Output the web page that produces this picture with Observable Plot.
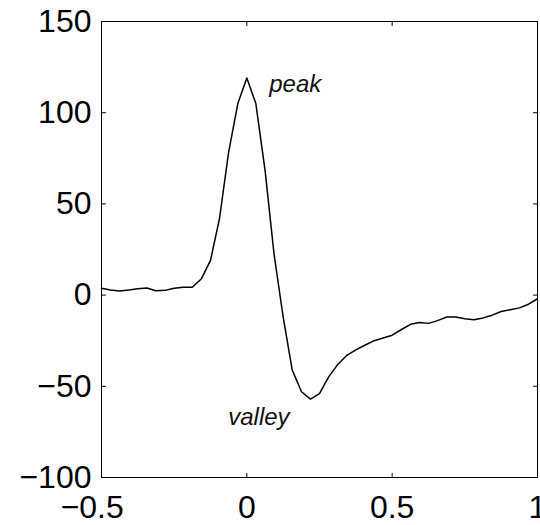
<!DOCTYPE html>
<html>
<head>
<meta charset="utf-8">
<script src="https://cdn.jsdelivr.net/npm/d3@7"></script>
<script src="https://cdn.jsdelivr.net/npm/@observablehq/plot@0.6"></script>
<style>
  html, body { margin: 0; padding: 0; background: #fff; }
  svg { display: block; }
</style>
</head>
<body>
<div id="chart"></div>
<script>
// Sample times (s) of the averaged spike waveform
const time = [
  -0.5, -0.469, -0.438, -0.406, -0.375, -0.344, -0.313, -0.281, -0.25, -0.219,
  -0.188, -0.156, -0.125, -0.094, -0.063, -0.031, 0, 0.031, 0.063, 0.094,
  0.125, 0.156, 0.188, 0.219, 0.25, 0.281, 0.313, 0.344, 0.375, 0.406,
  0.438, 0.469, 0.5, 0.531, 0.563, 0.594, 0.625, 0.656, 0.688, 0.719,
  0.75, 0.781, 0.813, 0.844, 0.875, 0.906, 0.938, 0.969, 1.0
];
// Amplitude at each sample
const amplitude = [
  3.8, 2.8, 2.2, 2.8, 3.5, 3.9, 2.4, 2.6, 3.8, 4.3,
  4.3, 9, 19, 42, 78, 105, 119, 105, 68, 22,
  -12, -41, -53, -57, -54, -45, -38, -33, -30, -27.5,
  -25, -23.5, -22, -19, -16, -15, -15.5, -14, -12, -12,
  -13, -13.5, -12.5, -11, -9, -8, -7, -5, -2
];

const xTicks = [-0.5, 0, 0.5, 1];
const yTicks = [-100, -50, 0, 50, 100, 150];

// Annotations: text and the point where each label starts (baseline)
const noteText = ["peak", "valley"];
const noteX = [0.077, -0.064];
const noteY = [111.5, -71.2];

const trace = time.map((t, i) => ({t, v: amplitude[i]}));
const notes = noteText.map((s, i) => ({s, x: noteX[i], y: noteY[i]}));

const font = "'Liberation Sans', Arial, Helvetica, sans-serif";
const labelSize = 32;
const tickLen = 4;
const signed = d => (d < 0 ? "\u2212" : "") + Math.abs(d);

// a plain line segment shape for vector marks, used as inward tick marks
const stub = {draw(context, l) { context.moveTo(0, 0); context.lineTo(0, -l); }};
const tick = (data, channel, frameAnchor, rotate) =>
  Plot.vector(data, {[channel]: d => d, frameAnchor, rotate, length: tickLen, anchor: "start", shape: stub, stroke: "#000", strokeWidth: 1});

const chart = Plot.plot({
  width: 540,
  height: 525,
  marginLeft: 101,
  marginRight: 3,
  marginTop: 21,
  marginBottom: 48,
  style: {fontFamily: font, background: "#fff", color: "#000", overflow: "visible"},
  x: {domain: [-0.5, 1], axis: null},
  y: {domain: [-100, 150], axis: null},
  marks: [
    Plot.frame({stroke: "#000", strokeWidth: 1}),
    // ticks pointing into the plot area on all four sides
    tick(xTicks, "x", "bottom", 0),
    tick(xTicks, "x", "top", 180),
    tick(yTicks, "y", "left", 90),
    tick(yTicks, "y", "right", -90),
    // y tick labels
    Plot.text(yTicks, {y: d => d, text: signed, frameAnchor: "left", textAnchor: "end", dx: -10, fontSize: labelSize}),
    // x tick labels: the number is centred on the tick, the minus sign hangs to the left
    Plot.text(xTicks, {x: d => d, text: d => String(Math.abs(d)), frameAnchor: "bottom", lineAnchor: "top", dy: 18, fontSize: labelSize}),
    Plot.text(xTicks.filter(d => d < 0), {x: d => d, text: () => "\u2212", frameAnchor: "bottom", lineAnchor: "top", textAnchor: "end", dy: 18, dx: -22, fontSize: labelSize}),
    // waveform
    Plot.line(trace, {x: "t", y: "v", stroke: "#000", strokeWidth: 1.5}),
    // annotations
    Plot.text(notes, {x: "x", y: "y", text: "s", textAnchor: "start", lineAnchor: "bottom", fontSize: 24, fontStyle: "italic", fill: "#111"})
  ]
});

document.getElementById("chart").append(chart);
</script>
</body>
</html>
